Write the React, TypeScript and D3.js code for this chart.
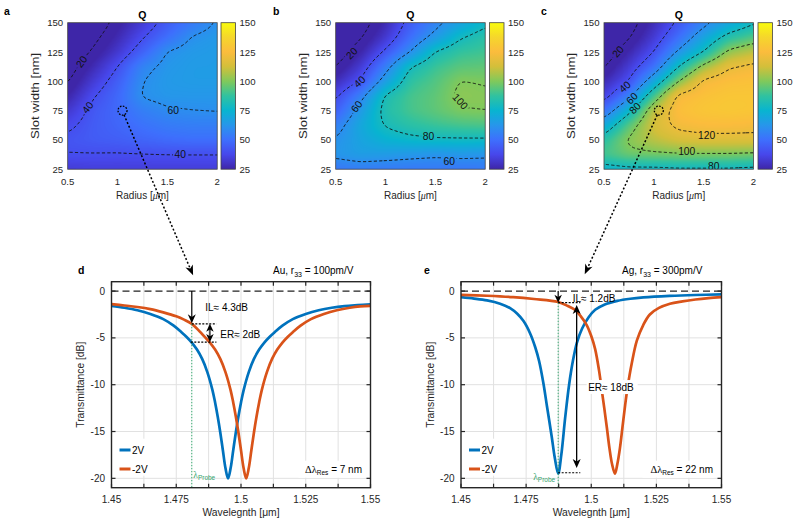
import React, { useMemo } from "react";
import * as d3 from "d3";

// ---------------- data ----------------
const radius = [0.5, 0.75, 1, 1.25, 1.5, 1.75, 2];
const slotWidth = [150, 137.5, 125, 112.5, 100, 87.5, 75, 62.5, 50, 37.5, 25];

const qA = [
  [8, 13, 23, 33, 44, 53, 61],
  [10, 17, 27, 39, 50, 61, 64],
  [12, 21, 32, 46, 61, 64, 65],
  [15, 27, 40, 57, 63, 65, 65],
  [19, 33, 45, 60, 64, 65, 65],
  [25, 39, 48, 61, 63, 63, 63],
  [32, 43, 48, 55, 59, 60, 60.5],
  [38, 44, 47, 51, 54, 55, 55],
  [42, 44, 45, 47, 49, 50, 50],
  [39.8, 39.6, 39.3, 39.6, 39.8, 39.8, 39.8],
  [33, 34, 34, 34, 34, 34, 34],
];
const qB = [
  [11, 15, 27, 44, 56, 67, 77],
  [12, 19, 32, 50, 64, 79, 86],
  [14, 25, 42, 60, 81, 88, 90],
  [19.5, 33, 55, 80, 89, 94, 95],
  [28, 41, 66, 87, 93, 100.5, 99.5],
  [38, 56, 82, 91, 95, 102, 101],
  [45, 65, 84, 91, 95, 99.5, 100.5],
  [55, 70, 81, 86, 89, 91, 92],
  [61, 68, 74, 77, 78.5, 78.5, 78.5],
  [63, 66, 65, 63, 61.5, 63, 62],
  [52, 54, 53, 53, 53, 52, 53],
];
const qC = [
  [9, 15, 28, 42, 56, 68, 78],
  [10, 19, 33, 50, 68, 85, 93],
  [13, 26, 40, 62, 80, 103, 110],
  [19, 33, 50, 80, 104, 119, 123],
  [27, 40, 69, 100, 123, 127, 128],
  [35, 55, 91, 124, 128, 130, 130],
  [50, 76, 110, 127, 130, 131, 130],
  [70, 94, 114, 123, 125, 125, 124],
  [86, 102, 109, 114, 116, 116, 116],
  [91, 97, 98, 99, 99, 99, 98],
  [74, 76, 76, 77, 77, 77, 76],
];
const radiusTicks = [0.5, 1, 1.5, 2];
const slotTicks = [25, 50, 75, 100, 125, 150];
const cbarTicks = [25, 50, 75, 100, 125, 150];
const qLevels = [20, 40, 60, 80, 100, 120];

const labelsA = [
  { q: 20, r: 0.64, s: 116.7, rot: -55 },
  { q: 40, r: 0.7, s: 77.7, rot: -52 },
  { q: 60, r: 1.56, s: 74.8, rot: 0 },
  { q: 40, r: 1.63, s: 37.5, rot: 0 },
];
const labelsB = [
  { q: 20, r: 0.66, s: 123.9, rot: -45 },
  { q: 40, r: 0.74, s: 99.7, rot: -42 },
  { q: 60, r: 0.71, s: 78.4, rot: -52 },
  { q: 80, r: 1.43, s: 52.8, rot: 0 },
  { q: 100, r: 1.75, s: 82.7, rot: 48 },
  { q: 60, r: 1.64, s: 31.9, rot: 0 },
];
const labelsC = [
  { q: 20, r: 0.64, s: 125.3, rot: -50 },
  { q: 40, r: 0.71, s: 95.4, rot: -42 },
  { q: 60, r: 0.78, s: 85.5, rot: -45 },
  { q: 80, r: 0.81, s: 77, rot: -45 },
  { q: 120, r: 1.53, s: 54.2, rot: 0 },
  { q: 100, r: 1.33, s: 40, rot: 0 },
  { q: 80, r: 1.6, s: 27.8, rot: 0 },
];
const markRadius = 1.05;
const markSlot = 75;

const wlTicks = [1.45, 1.4625, 1.475, 1.4875, 1.5, 1.5125, 1.525, 1.5375, 1.55];
const wlTickLabels = ["1.45", "", "1.475", "", "1.5", "", "1.525", "", "1.55"];
const dbTicks = [-20, -15, -10, -5, 0];

const wlD_2V = [1.45, 1.455, 1.46, 1.465, 1.47, 1.474, 1.477, 1.479, 1.481, 1.483, 1.485, 1.487, 1.489, 1.49, 1.491, 1.492, 1.493, 1.494, 1.495, 1.496, 1.497, 1.498, 1.499, 1.5, 1.501, 1.503, 1.505, 1.507, 1.509, 1.511, 1.513, 1.516, 1.52, 1.525, 1.53, 1.535, 1.54, 1.545, 1.55];
const dbD_2V = [-1.58, -1.78, -2.05, -2.45, -3.0, -3.7, -4.4, -4.9, -5.5, -6.25, -7.25, -8.65, -10.6, -11.9, -13.4, -15.1, -17.0, -18.9, -20, -18.9, -17.0, -15.1, -13.4, -11.9, -10.6, -8.65, -7.25, -6.25, -5.5, -4.9, -4.4, -3.7, -3.0, -2.45, -2.05, -1.78, -1.6, -1.5, -1.42];
const wlD_m2V = [1.45, 1.455, 1.46, 1.465, 1.47, 1.475, 1.478, 1.481, 1.484, 1.486, 1.488, 1.49, 1.492, 1.494, 1.496, 1.497, 1.498, 1.499, 1.5, 1.501, 1.502, 1.503, 1.504, 1.505, 1.506, 1.507, 1.508, 1.51, 1.512, 1.514, 1.516, 1.518, 1.52, 1.523, 1.527, 1.532, 1.537, 1.542, 1.546, 1.55];
const dbD_m2V = [-1.4, -1.54, -1.7, -1.93, -2.28, -2.7, -3.05, -3.5, -4.3, -4.9, -5.5, -6.25, -7.25, -8.65, -10.6, -11.9, -13.4, -15.1, -17.0, -18.9, -20, -18.9, -17.0, -15.1, -13.4, -11.9, -10.6, -8.65, -7.25, -6.25, -5.5, -4.9, -4.4, -3.7, -3.0, -2.45, -2.05, -1.78, -1.64, -1.58];

const wlE_2V = [1.45, 1.455, 1.46, 1.465, 1.469, 1.4715, 1.474, 1.4765, 1.4785, 1.48, 1.4816, 1.483, 1.4848, 1.486, 1.4873, 1.4885, 1.49, 1.4915, 1.493, 1.4945, 1.4965, 1.499, 1.5015, 1.505, 1.51, 1.515, 1.52, 1.53, 1.54, 1.55];
const dbE_2V = [-0.65, -0.8, -1.0, -1.35, -1.85, -2.4, -3.2, -4.5, -6.0, -7.5, -9.8, -12.3, -15.5, -17.8, -19.5, -17.5, -13.5, -10.0, -7.4, -5.5, -4.0, -2.8, -2.0, -1.45, -1.05, -0.82, -0.68, -0.52, -0.42, -0.36];
const wlE_m2V = [1.45, 1.46, 1.47, 1.478, 1.4873, 1.491, 1.4937, 1.496, 1.4982, 1.5, 1.5015, 1.503, 1.504, 1.505, 1.506, 1.507, 1.508, 1.5091, 1.51, 1.511, 1.512, 1.513, 1.514, 1.5155, 1.5175, 1.52, 1.5225, 1.526, 1.5302, 1.535, 1.54, 1.545, 1.55];
const dbE_m2V = [-0.4, -0.5, -0.65, -0.85, -1.17, -1.6, -2.0, -2.7, -3.6, -4.8, -6.2, -8.5, -10.5, -12.5, -14.6, -16.8, -18.5, -19.5, -18.5, -16.8, -14.5, -12.2, -10.2, -7.8, -5.3, -3.6, -2.5, -1.8, -1.35, -1.1, -0.9, -0.75, -0.64];

// annotation values (data units)
const probeD = 1.481;
const ilD = -3.45;
const erTopD = -3.5;
const erBotD = -5.45;
const erXD = 1.488;
const dotEndD = 1.4905;
const probeE = 1.4873;
const ilE = -1.24;
const erTopE = -1.5;
const erBotE = -19.4;
const erXE = 1.4944;
const dotEndE = 1.4958;
const arrowTargetD = 1.4815;
const arrowTargetE = 1.4975;

// ---------------- helpers ----------------
const FONT = "'Liberation Sans', Arial, Helvetica, sans-serif";
const SERIF = "'Liberation Serif', 'Times New Roman', serif";
const TXT = "#262626";
const BLUE = "#0072BD";
const ORANGE = "#D95319";
const GREEN = "#34a36c";

const PARULA_T = [0, 0.1, 0.2, 0.3, 0.4, 0.5, 0.6, 0.7, 0.8, 0.9, 1];
const PARULA_C = ["#3e26a8", "#4747eb", "#3e6ffd", "#2796eb", "#08b4d0", "#30c2a0", "#80c95b", "#d3bf3a", "#fbbc3d", "#f5d62c", "#f9fb0e"];
const parula = d3
  .scaleLinear<string>()
  .domain(PARULA_T)
  .range(PARULA_C)
  .interpolate(d3.interpolateRgb)
  .clamp(true);
const LUT = d3.range(256).map((i) => d3.rgb(parula(i / 255)));
const qColorIndex = (v: number) => Math.max(0, Math.min(255, Math.round(((v - 25) / 125) * 255)));

function sampleGrid(q: number[][], r: number, s: number) {
  const rc = Math.max(radius[0], Math.min(radius[radius.length - 1], r));
  const sc = Math.max(25, Math.min(150, s));
  let i = d3.bisectRight(radius, rc) - 1;
  i = Math.max(0, Math.min(radius.length - 2, i));
  const tx = (rc - radius[i]) / (radius[i + 1] - radius[i]);
  let j = 0;
  while (j < slotWidth.length - 2 && slotWidth[j + 1] > sc) j++;
  const ty = (slotWidth[j] - sc) / (slotWidth[j] - slotWidth[j + 1]);
  const a = q[j][i] * (1 - tx) + q[j][i + 1] * tx;
  const b = q[j + 1][i] * (1 - tx) + q[j + 1][i + 1] * tx;
  return a * (1 - ty) + b * ty;
}

function boxBlur(src: Float64Array, W: number, H: number, r: number) {
  const tmp = new Float64Array(W * H);
  const out = new Float64Array(W * H);
  const n = 2 * r + 1;
  for (let j = 0; j < H; j++)
    for (let i = 0; i < W; i++) {
      let s = 0;
      for (let k = -r; k <= r; k++) s += src[j * W + Math.min(W - 1, Math.max(0, i + k))];
      tmp[j * W + i] = s / n;
    }
  for (let j = 0; j < H; j++)
    for (let i = 0; i < W; i++) {
      let s = 0;
      for (let k = -r; k <= r; k++) s += tmp[Math.min(H - 1, Math.max(0, j + k)) * W + i];
      out[j * W + i] = s / n;
    }
  return out;
}

function buildField(q: number[][], w: number, h: number) {
  const P = 6;
  const nx = Math.round(w);
  const ny = Math.round(h);
  const NX = nx + 2 * P;
  const NY = ny + 2 * P;
  let vals = new Float64Array(NX * NY);
  for (let j = 0; j < NY; j++)
    for (let i = 0; i < NX; i++) {
      const r = 0.5 + ((i - P + 0.5) / nx) * 1.5;
      const s = 150 - ((j - P + 0.5) / ny) * 125;
      vals[j * NX + i] = sampleGrid(q, r, s);
    }
  for (let k = 0; k < 3; k++) vals = boxBlur(vals, NX, NY, 3);
  let url = "";
  if (typeof document !== "undefined") {
    const canvas = document.createElement("canvas");
    canvas.width = NX;
    canvas.height = NY;
    const ctx = canvas.getContext("2d");
    if (ctx) {
      const img = ctx.createImageData(NX, NY);
      for (let k = 0; k < NX * NY; k++) {
        const c = LUT[qColorIndex(vals[k])];
        img.data[4 * k] = c.r;
        img.data[4 * k + 1] = c.g;
        img.data[4 * k + 2] = c.b;
        img.data[4 * k + 3] = 255;
      }
      ctx.putImageData(img, 0, 0);
      url = canvas.toDataURL();
    }
  }
  const contours = d3.contours().size([NX, NY]).thresholds(qLevels)(Array.from(vals));
  return { P, nx, ny, NX, NY, url, contours };
}

function arrowHead(tx: number, ty: number, dx: number, dy: number, len = 9, wid = 7.5) {
  const L = Math.hypot(dx, dy);
  const ux = dx / L, uy = dy / L;
  const px = -uy, py = ux;
  const bx = tx - ux * len, by = ty - uy * len;
  const nx = tx - ux * len * 0.72, ny = ty - uy * len * 0.72;
  return `M${tx},${ty}L${bx + (px * wid) / 2},${by + (py * wid) / 2}L${nx},${ny}L${bx - (px * wid) / 2},${by - (py * wid) / 2}Z`;
}

// ---------------- heatmap panel ----------------
function Heatmap(props: any) {
  const { id, left, top, w, h, q, labels, cbarX, letter, letterX, mark } = props;
  const x = d3.scaleLinear().domain([0.5, 2]).range([left, left + w]);
  const y = d3.scaleLinear().domain([25, 150]).range([top + h, top]);
  const f = useMemo(() => buildField(q, w, h), [q, w, h]);
  const sx = w / f.nx;
  const sy = h / f.ny;
  const proj = d3.geoTransform({
    point(px: number, py: number) {
      (this as any).stream.point(left + (px - f.P) * sx, top + (py - f.P) * sy);
    },
  });
  const path = d3.geoPath(proj as any);
  const cbW = 14.5;
  const cy = d3.scaleLinear().domain([25, 150]).range([top + h, top]);
  const stops = d3.range(0, 1.0001, 0.025);
  return (
    <g>
      <defs>
        <clipPath id={`clip-${id}`}>
          <rect x={left} y={top} width={w} height={h} />
        </clipPath>
        <mask id={`mask-${id}`} maskUnits="userSpaceOnUse" x={0} y={0} width={800} height={529}>
          <rect x={0} y={0} width={800} height={529} fill="white" />
          {labels.map((l: any, i: number) => {
            const tw = String(l.q).length * 5.8 + 3;
            return (
              <rect
                key={i}
                x={-tw / 2}
                y={-4.8}
                width={tw}
                height={9.6}
                fill="black"
                transform={`translate(${x(l.r)},${y(l.s)}) rotate(${l.rot})`}
              />
            );
          })}
        </mask>
        <linearGradient id={`grad-${id}`} x1="0" y1="1" x2="0" y2="0">
          {stops.map((t, i) => (
            <stop key={i} offset={t} stopColor={parula(t)} />
          ))}
        </linearGradient>
      </defs>
      <g clipPath={`url(#clip-${id})`}>
        {f.url && (
          <image
            href={f.url}
            x={left - f.P * sx}
            y={top - f.P * sy}
            width={f.NX * sx}
            height={f.NY * sy}
            preserveAspectRatio="none"
          />
        )}
        <g mask={`url(#mask-${id})`}>
          {f.contours.map((c: any, i: number) => (
            <path key={i} d={path(c) || ""} fill="none" stroke="#111" strokeWidth={0.9} strokeDasharray="3.2 2.2" />
          ))}
        </g>
        {labels.map((l: any, i: number) => (
          <text
            key={i}
            transform={`translate(${x(l.r)},${y(l.s)}) rotate(${l.rot})`}
            textAnchor="middle"
            dy={3.6}
            fontSize={10.3}
            fontFamily={FONT}
            fill="#111"
          >
            {l.q}
          </text>
        ))}
      </g>
      {mark && (
        <circle cx={x(markRadius)} cy={y(markSlot)} r={4.5} fill="none" stroke="#000" strokeWidth={1.3} strokeDasharray="1.6 1.4" />
      )}
      <rect x={left} y={top} width={w} height={h} fill="none" stroke="#444" strokeWidth={0.8} />
      <rect x={cbarX} y={top} width={cbW} height={h} fill={`url(#grad-${id})`} stroke="#444" strokeWidth={0.8} />
      {cbarTicks.map((t) => (
        <text key={t} x={cbarX + cbW + 4} y={cy(t) + 3.5} fontSize={9.6} fontFamily={FONT} fill={TXT}>
          {t}
        </text>
      ))}
      {slotTicks.map((t) => (
        <text key={t} x={left - 4.5} y={y(t) + 3.5} fontSize={9.6} fontFamily={FONT} fill={TXT} textAnchor="end">
          {t}
        </text>
      ))}
      {radiusTicks.map((t) => (
        <text key={t} x={x(t)} y={top + h + 16} fontSize={9.6} fontFamily={FONT} fill={TXT} textAnchor="middle">
          {t}
        </text>
      ))}
      <text x={left + w / 2} y={top + h + 29.5} fontSize={10} fontFamily={FONT} fill={TXT} textAnchor="middle">
        Radius [<tspan fontFamily={SERIF} fontStyle="italic">μ</tspan>m]
      </text>
      <text
        transform={`translate(${left - 29},${top + h / 2}) rotate(-90)`}
        fontSize={10.5}
        fontFamily={FONT}
        fill={TXT}
        textAnchor="middle"
        textLength={86}
        lengthAdjust="spacingAndGlyphs"
      >
        Slot width [nm]
      </text>
      <text x={left + w / 2} y={top - 3.5} fontSize={10.5} fontWeight="bold" fontFamily={FONT} fill="#000" textAnchor="middle">
        Q
      </text>
      <text x={letterX} y={15} fontSize={10.5} fontWeight="bold" fontFamily={FONT} fill="#000">
        {letter}
      </text>
    </g>
  );
}

// ---------------- spectrum panel ----------------
function Spectrum(props: any) {
  const { id, left, top, w, h, blue, orange, children } = props;
  const x = d3.scaleLinear().domain([1.45, 1.55]).range([left, left + w]);
  const y = d3.scaleLinear().domain([-21, 1]).range([top + h, top]);
  const line = d3
    .line<[number, number]>()
    .x((d) => x(d[0]))
    .y((d) => y(d[1]))
    .curve(d3.curveCatmullRom.alpha(0.5));
  const bluePts = d3.zip(blue[0], blue[1]) as [number, number][];
  const orPts = d3.zip(orange[0], orange[1]) as [number, number][];
  return (
    <g>
      <defs>
        <clipPath id={`clip-${id}`}>
          <rect x={left} y={top} width={w} height={h} />
        </clipPath>
      </defs>
      <rect x={left} y={top} width={w} height={h} fill="#fff" />
      {wlTicks.slice(1, -1).map((t) => (
        <line key={t} x1={x(t)} x2={x(t)} y1={top} y2={top + h} stroke="#e1e1e1" strokeWidth={1} />
      ))}
      {dbTicks.slice(0, -1).map((t) => (
        <line key={t} x1={left} x2={left + w} y1={y(t)} y2={y(t)} stroke="#e1e1e1" strokeWidth={1} />
      ))}
      <line x1={left} x2={left + w} y1={y(0)} y2={y(0)} stroke="#222" strokeWidth={1.2} strokeDasharray="7 4" />
      <g clipPath={`url(#clip-${id})`}>
        <path d={line(bluePts) || ""} fill="none" stroke={BLUE} strokeWidth={2.7} strokeLinejoin="round" />
        <path d={line(orPts) || ""} fill="none" stroke={ORANGE} strokeWidth={2.7} strokeLinejoin="round" />
      </g>
      {children(x, y)}
      <rect x={left + 3} y={top + 157} width={36} height={37} fill="#fff" />
      <line x1={left + 8} x2={left + 19} y1={top + 168.3} y2={top + 168.3} stroke={BLUE} strokeWidth={3} />
      <text x={left + 20.5} y={top + 172} fontSize={10} fontFamily={FONT} fill="#000">
        2V
      </text>
      <line x1={left + 8} x2={left + 19} y1={top + 187.3} y2={top + 187.3} stroke={ORANGE} strokeWidth={3} />
      <text x={left + 20.5} y={top + 191} fontSize={10} fontFamily={FONT} fill="#000">
        -2V
      </text>
      <rect x={left} y={top} width={w} height={h} fill="none" stroke="#262626" strokeWidth={1.4} />
      {wlTicks.map((t) => (
        <g key={t}>
          <line x1={x(t)} x2={x(t)} y1={top + h} y2={top + h - 4} stroke="#262626" strokeWidth={1.2} />
          <line x1={x(t)} x2={x(t)} y1={top} y2={top + 4} stroke="#262626" strokeWidth={1.2} />
        </g>
      ))}
      {dbTicks.map((t) => (
        <g key={t}>
          <line x1={left} x2={left + 4} y1={y(t)} y2={y(t)} stroke="#262626" strokeWidth={1.2} />
          <line x1={left + w} x2={left + w - 4} y1={y(t)} y2={y(t)} stroke="#262626" strokeWidth={1.2} />
        </g>
      ))}
      {wlTicks.map((t, i) =>
        wlTickLabels[i] ? (
          <text key={t} x={x(t)} y={top + h + 15.5} fontSize={10} fontFamily={FONT} fill={TXT} textAnchor="middle">
            {wlTickLabels[i]}
          </text>
        ) : null
      )}
      {dbTicks.map((t) => (
        <text key={t} x={left - 6.5} y={y(t) + 3.6} fontSize={10} fontFamily={FONT} fill={TXT} textAnchor="end">
          {t}
        </text>
      ))}
      <text x={left + w / 2} y={top + h + 28.5} fontSize={10.3} fontFamily={FONT} fill={TXT} textAnchor="middle">
        Wavelegnth [μm]
      </text>
      <text
        transform={`translate(${left - 27.5},${top + h / 2}) rotate(-90)`}
        fontSize={10.3}
        fontFamily={FONT}
        fill={TXT}
        textAnchor="middle"
      >
        Transmittance [dB]
      </text>
    </g>
  );
}

function DeltaText({ xEnd, y, value }: any) {
  return (
    <text x={xEnd} y={y} fontSize={10} fontFamily={FONT} fill="#000" textAnchor="end">
      <tspan fontFamily={SERIF} fontSize={10.5}>Δλ</tspan>
      <tspan fontSize={6.5} dy={2.5}>Res</tspan>
      <tspan dy={-2.5}>{` = ${value} nm`}</tspan>
    </text>
  );
}

function ProbeText({ x, y, anchor }: any) {
  return (
    <text x={x} y={y} fontSize={9} fill={GREEN} textAnchor={anchor}>
      <tspan fontFamily={SERIF} fontSize={9.5}>λ</tspan>
      <tspan fontFamily={FONT} fontSize={6.5} dy={2}>Probe</tspan>
    </text>
  );
}

export default function App() {
  const hmTop = 22.7, hmW = 149.5, hmH = 146.5;
  const dGeo = { left: 111.5, top: 281.7, w: 259, h: 206 };
  const eGeo = { left: 461, top: 281.7, w: 260.5, h: 206 };
  const xA = d3.scaleLinear().domain([0.5, 2]).range([67.7, 67.7 + hmW]);
  const xC = d3.scaleLinear().domain([0.5, 2]).range([604, 604 + hmW]);
  const yH = d3.scaleLinear().domain([25, 150]).range([hmTop + hmH, hmTop]);
  const xD = d3.scaleLinear().domain([1.45, 1.55]).range([dGeo.left, dGeo.left + dGeo.w]);
  const xE = d3.scaleLinear().domain([1.45, 1.55]).range([eGeo.left, eGeo.left + eGeo.w]);

  const startA = [xA(markRadius) + 1.5, yH(markSlot) + 4.2];
  const endA = [xD(arrowTargetD), dGeo.top - 6.5];
  const startC = [xC(markRadius) - 1.5, yH(markSlot) + 4.2];
  const endC = [xE(arrowTargetE), eGeo.top - 7.5];

  const connector = (s: number[], e: number[]) => {
    const dx = e[0] - s[0], dy = e[1] - s[1];
    const L = Math.hypot(dx, dy);
    const bx = e[0] - (dx / L) * 7, by = e[1] - (dy / L) * 7;
    return (
      <g>
        <line x1={s[0]} y1={s[1]} x2={bx} y2={by} stroke="#000" strokeWidth={1.5} strokeDasharray="2 2" />
        <path d={arrowHead(e[0], e[1], dx, dy, 10, 8)} fill="#000" />
      </g>
    );
  };

  return (
    <svg width={800} height={529} style={{ position: "absolute", left: 0, top: 0, background: "#fff" }}>
      <rect x={0} y={0} width={800} height={529} fill="#fff" />
      <Heatmap id="a" left={67.7} top={hmTop} w={hmW} h={hmH} q={qA} labels={labelsA} cbarX={221} letter="a" letterX={4} mark />
      <Heatmap id="b" left={335.7} top={hmTop} w={hmW} h={hmH} q={qB} labels={labelsB} cbarX={489.5} letter="b" letterX={273} />
      <Heatmap id="c" left={604} top={hmTop} w={hmW} h={hmH} q={qC} labels={labelsC} cbarX={758} letter="c" letterX={541} mark />

      <Spectrum id="d" {...dGeo} blue={[wlD_2V, dbD_2V]} orange={[wlD_m2V, dbD_m2V]}>
        {(x: any, y: any) => (
          <g>
            <line x1={x(probeD)} x2={x(probeD)} y1={y(erTopD)} y2={dGeo.top + dGeo.h} stroke={GREEN} strokeWidth={1} strokeDasharray="1.5 1.5" />
            <line x1={x(probeD)} x2={x(dotEndD)} y1={y(erTopD)} y2={y(erTopD)} stroke="#000" strokeWidth={1.1} strokeDasharray="2 1.5" />
            <line x1={x(probeD) - 1} x2={x(dotEndD)} y1={y(erBotD)} y2={y(erBotD)} stroke="#000" strokeWidth={1.1} strokeDasharray="2 1.5" />
            <line x1={x(probeD)} x2={x(probeD)} y1={y(0)} y2={y(ilD) - 6} stroke="#000" strokeWidth={1.2} />
            <path d={arrowHead(x(probeD), y(ilD), 0, 1, 9, 8)} fill="#000" />
            <line x1={x(erXD)} x2={x(erXD)} y1={y(erTopD) + 5} y2={y(erBotD) - 5} stroke="#000" strokeWidth={1.2} />
            <path d={arrowHead(x(erXD), y(erTopD), 0, -1, 8, 7.5)} fill="#000" />
            <path d={arrowHead(x(erXD), y(erBotD), 0, 1, 8, 7.5)} fill="#000" />
            <text x={x(probeD) + 13.5} y={y(0) + 20} fontSize={10} fontFamily={FONT} fill="#000">IL≈ 4.3dB</text>
            <text x={x(probeD) + 28.5} y={y(erTopD) + 14} fontSize={10} fontFamily={FONT} fill="#000">ER≈ 2dB</text>
            <ProbeText x={x(probeD) + 1.5} y={dGeo.top + 196} anchor="start" />
            <rect x={dGeo.left + dGeo.w - 72} y={dGeo.top + 179} width={66} height={17} fill="#fff" />
            <DeltaText xEnd={dGeo.left + dGeo.w - 8.5} y={dGeo.top + 191} value={7} />
          </g>
        )}
      </Spectrum>

      <Spectrum id="e" {...eGeo} blue={[wlE_2V, dbE_2V]} orange={[wlE_m2V, dbE_m2V]}>
        {(x: any, y: any) => (
          <g>
            <line x1={x(probeE)} x2={x(probeE)} y1={y(ilE)} y2={eGeo.top + eGeo.h} stroke={GREEN} strokeWidth={1} strokeDasharray="1.5 1.5" />
            <line x1={x(probeE)} x2={x(dotEndE)} y1={y(ilE)} y2={y(ilE)} stroke="#000" strokeWidth={1.1} strokeDasharray="2 1.5" />
            <line x1={x(probeE)} x2={x(dotEndE)} y1={y(erBotE)} y2={y(erBotE)} stroke="#000" strokeWidth={1.1} strokeDasharray="2 1.5" />
            <line x1={x(probeE)} x2={x(probeE)} y1={y(0)} y2={y(ilE) - 5} stroke="#000" strokeWidth={1.2} />
            <path d={arrowHead(x(probeE), y(ilE), 0, 1, 8, 7.5)} fill="#000" />
            <line x1={x(erXE)} x2={x(erXE)} y1={y(erTopE) + 6} y2={y(erBotE + 0.5) - 6} stroke="#000" strokeWidth={1.3} />
            <path d={arrowHead(x(erXE), y(erTopE), 0, -1, 9, 8)} fill="#000" />
            <path d={arrowHead(x(erXE), y(erBotE + 0.5), 0, 1, 9, 8)} fill="#000" />
            <text x={x(probeE) + 14.5} y={y(0) + 10.5} fontSize={10} fontFamily={FONT} fill="#000">IL≈ 1.2dB</text>
            <rect x={x(erXE) + 10} y={y(-10.25) - 7} width={51} height={14} fill="#fff" />
            <text x={x(erXE) + 11.5} y={y(-10.25) + 3.6} fontSize={10} fontFamily={FONT} fill="#000">ER≈ 18dB</text>
            <ProbeText x={x(probeE) - 3} y={eGeo.top + 198} anchor="end" />
            <rect x={eGeo.left + eGeo.w - 79} y={eGeo.top + 179} width={72} height={17} fill="#fff" />
            <DeltaText xEnd={eGeo.left + eGeo.w - 8.5} y={eGeo.top + 191} value={22} />
          </g>
        )}
      </Spectrum>

      <text x={78} y={274} fontSize={10.5} fontWeight="bold" fontFamily={FONT} fill="#000">d</text>
      <text x={424} y={274} fontSize={10.5} fontWeight="bold" fontFamily={FONT} fill="#000">e</text>
      <text x={273} y={274} fontSize={10} fontFamily={FONT} fill="#000">
        Au, r<tspan fontSize={7} dy={2.5}>33</tspan>
        <tspan dy={-2.5}> = 100pm/V</tspan>
      </text>
      <text x={622} y={274} fontSize={10} fontFamily={FONT} fill="#000">
        Ag, r<tspan fontSize={7} dy={2.5}>33</tspan>
        <tspan dy={-2.5}> = 300pm/V</tspan>
      </text>

      {connector(startA, endA)}
      {connector(startC, endC)}
    </svg>
  );
}
